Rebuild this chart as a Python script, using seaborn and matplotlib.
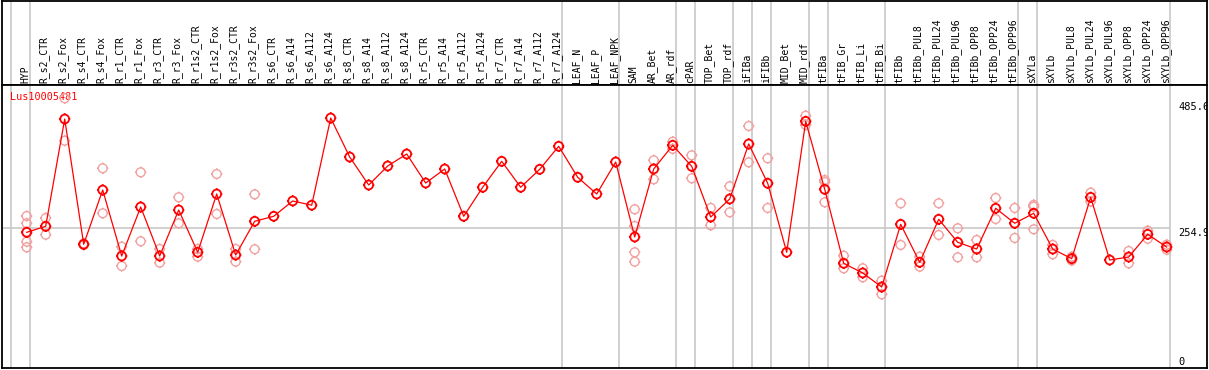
import numpy as np
import pandas as pd
import matplotlib
matplotlib.use("Agg")
import matplotlib.pyplot as plt
import seaborn as sns
from matplotlib.path import Path
from matplotlib.markers import MarkerStyle

gene = "Lus10005481"

categories = [
    "HYP", "R_s2_CTR", "R_s2_Fox", "R_s4_CTR", "R_s4_Fox", "R_r1_CTR", "R_r1_Fox",
    "R_r3_CTR", "R_r3_Fox", "R_r1s2_CTR", "R_r1s2_Fox", "R_r3s2_CTR", "R_r3s2_Fox",
    "R_s6_CTR", "R_s6_A14", "R_s6_A112", "R_s6_A124", "R_s8_CTR", "R_s8_A14",
    "R_s8_A112", "R_s8_A124", "R_r5_CTR", "R_r5_A14", "R_r5_A112", "R_r5_A124",
    "R_r7_CTR", "R_r7_A14", "R_r7_A112", "R_r7_A124", "LEAF_N", "LEAF_P", "LEAF_NPK",
    "SAM", "AR_Bet", "AR_rdf", "cPAR", "TOP_Bet", "TOP_rdf", "iFIBa", "iFIBb",
    "MID_Bet", "MID_rdf", "tFIBa", "tFIB_Gr", "tFIB_Li", "tFIB_Bi", "tFIBb",
    "tFIBb_PUL8", "tFIBb_PUL24", "tFIBb_PUL96", "tFIBb_OPP8", "tFIBb_OPP24",
    "tFIBb_OPP96", "sXYLa", "sXYLb", "sXYLb_PUL8", "sXYLb_PUL24", "sXYLb_PUL96",
    "sXYLb_OPP8", "sXYLb_OPP24", "sXYLb_OPP96",
]

means = [
    246.8, 258.2, 462.4, 224.0, 327.3, 201.7, 295.0,
    201.7, 289.3, 208.8, 319.7, 203.6, 267.8,
    277.3, 306.4, 298.4, 464.3, 390.1, 336.8,
    373.0, 395.8, 340.6, 367.3, 277.3, 332.5,
    381.9, 332.5, 366.7, 410.5, 351.5, 319.7, 380.6,
    237.9, 367.3, 412.4, 372.4, 275.9, 310.2, 414.9, 340.1,
    208.8, 458.0, 328.6, 187.8, 169.4, 142.7, 262.0,
    189.7, 271.6, 227.8, 215.0, 292.5,
    264.0, 283.0, 215.0, 196.6, 313.4, 194.1,
    199.8, 243.0, 218.8,
]

replicates = [
    [277.8, 264.0, 228.9, 218.3], [274.0, 242.3], [501.8, 421.1], [225.5, 222.6],
    [368.6, 283.0], [219.4, 182.7], [361.0, 229.7],
    [215.0, 189.0], [313.4, 264.0], [215.0, 200.4], [357.8, 281.6], [215.0, 190.9],
    [319.1, 214.5],
    [], [], [], [], [], [],
    [], [], [], [], [], [],
    [], [], [], [], [], [], [],
    [290.6, 258.8, 208.8, 190.9], [383.8, 347.7], [419.2, 405.6], [393.3, 349.6],
    [293.1, 260.1], [334.4, 284.9], [449.1, 380.0], [387.6, 293.1],
    [], [468.7, 451.0], [346.3, 342.5, 303.9], [202.3, 178.3], [178.3, 161.2],
    [154.7, 128.8], [302.0, 222.7],
    [200.4, 181.4], [302.0, 241.7], [254.4, 199.2], [232.2, 199.2], [312.1, 272.1],
    [293.1, 236.0], [299.0, 295.5, 252.5], [222.7, 205.0], [200.4, 193.2],
    [322.2, 305.4], [],
    [211.2, 187.8], [249.9, 234.6], [223.2, 213.7],
]

group_separators = [-1, 0, 28, 31, 34, 35, 37, 38, 39, 41, 42, 45, 52, 53, 60]
ytick_values = [485.6, 254.9, 0]
ytick_labels = ["485.6", "254.9", "0"]

# ---------------------------------------------------------------------------
pos = np.arange(len(categories))
df_mean = pd.DataFrame({"pos": pos, "value": means})
rep_rows = [(i, v) for i, reps in enumerate(replicates) for v in reps]
df_rep = pd.DataFrame(rep_rows, columns=["pos", "value"])

W, H = 1209, 370
fig = plt.figure(figsize=(W / 100, H / 100), dpi=100)
fig.patch.set_facecolor("white")

header_px = 85
bottom_px = 368
left_px = 1.5
right_px = 1207.0
x0_px, dx_px = 26.7, 19.0
zero_px, scale_px = 362.0, 0.5255

xlim = ((left_px - x0_px) / dx_px, (right_px - x0_px) / dx_px)
ylim = ((zero_px - bottom_px) / scale_px, (zero_px - header_px) / scale_px)

ax_head = fig.add_axes([left_px / W, (H - header_px) / H,
                        (right_px - left_px) / W, (header_px - 0.5) / H])
ax = fig.add_axes([left_px / W, (H - bottom_px) / H,
                   (right_px - left_px) / W, (bottom_px - header_px) / H])

for a in (ax_head, ax):
    a.set_xlim(*xlim)
    a.set_facecolor("white")
    a.set_xticks([])
    a.set_yticks([])
    for s in a.spines.values():
        s.set_color("black")
        s.set_linewidth(1.3)
ax_head.set_ylim(0, 1)
ax.set_ylim(*ylim)

grid_c = "#c4c4c4"
for g in group_separators:
    for a in (ax_head, ax):
        a.axvline(g + 0.19, color=grid_c, linewidth=1.1, zorder=0)
ax.hlines(254.9, xlim[0], 60.19, color=grid_c, linewidth=1.1, zorder=0)

# header labels
mono = "DejaVu Sans Mono"
for i, c in enumerate(categories):
    ax_head.text(i - 0.08, 2.0 / header_px, c, rotation=90, ha="center", va="bottom",
                 fontsize=7.0, family=mono, color="black")

# marker: circle with four small ticks
circle = Path.unit_circle()
t = 1.28
tick_path = Path(
    [(0, 1), (0, t), (0, -1), (0, -t), (1, 0), (t, 0), (-1, 0), (-t, 0)],
    [Path.MOVETO, Path.LINETO] * 4,
)
mk = MarkerStyle(Path.make_compound_path(circle, tick_path))
msize = 66

pale = "#f2a0a0"
sns.scatterplot(data=df_rep, x="pos", y="value", ax=ax, marker=mk, s=msize,
                color=pale, edgecolor=pale, linewidth=1.0, zorder=2, legend=False)
sns.lineplot(data=df_mean, x="pos", y="value", ax=ax, color="#ff0000",
             linewidth=0.9, zorder=3, legend=False)
sns.scatterplot(data=df_mean, x="pos", y="value", ax=ax, marker=mk, s=msize,
                color="#ff0000", edgecolor="#ff0000", linewidth=1.3, zorder=4,
                legend=False)
for coll in ax.collections:
    coll.set_facecolor("none")

ax.set_xlabel("")
ax.set_ylabel("")
ax.set_xlim(*xlim)
ax.set_ylim(*ylim)

# y value labels at right
xlab = (1178 - x0_px) / dx_px
ax.text(xlab, ytick_values[0], ytick_labels[0], ha="left", va="center",
        fontsize=7.5, family=mono, color="black", clip_on=True, zorder=5)
ax.text(xlab, ytick_values[1], ytick_labels[1], ha="left", va="top",
        fontsize=7.5, family=mono, color="black", clip_on=True, zorder=5)
ax.text(xlab, ytick_values[2], ytick_labels[2], ha="left", va="center",
        fontsize=7.5, family=mono, color="black", clip_on=True, zorder=5)

# gene label
ax.text((10 - x0_px) / dx_px, (zero_px - 97) / scale_px, gene, ha="left",
        va="center", fontsize=7.3, family=mono, color="#ff0000", zorder=1)

fig.savefig("out.png", dpi=100, facecolor="white")
